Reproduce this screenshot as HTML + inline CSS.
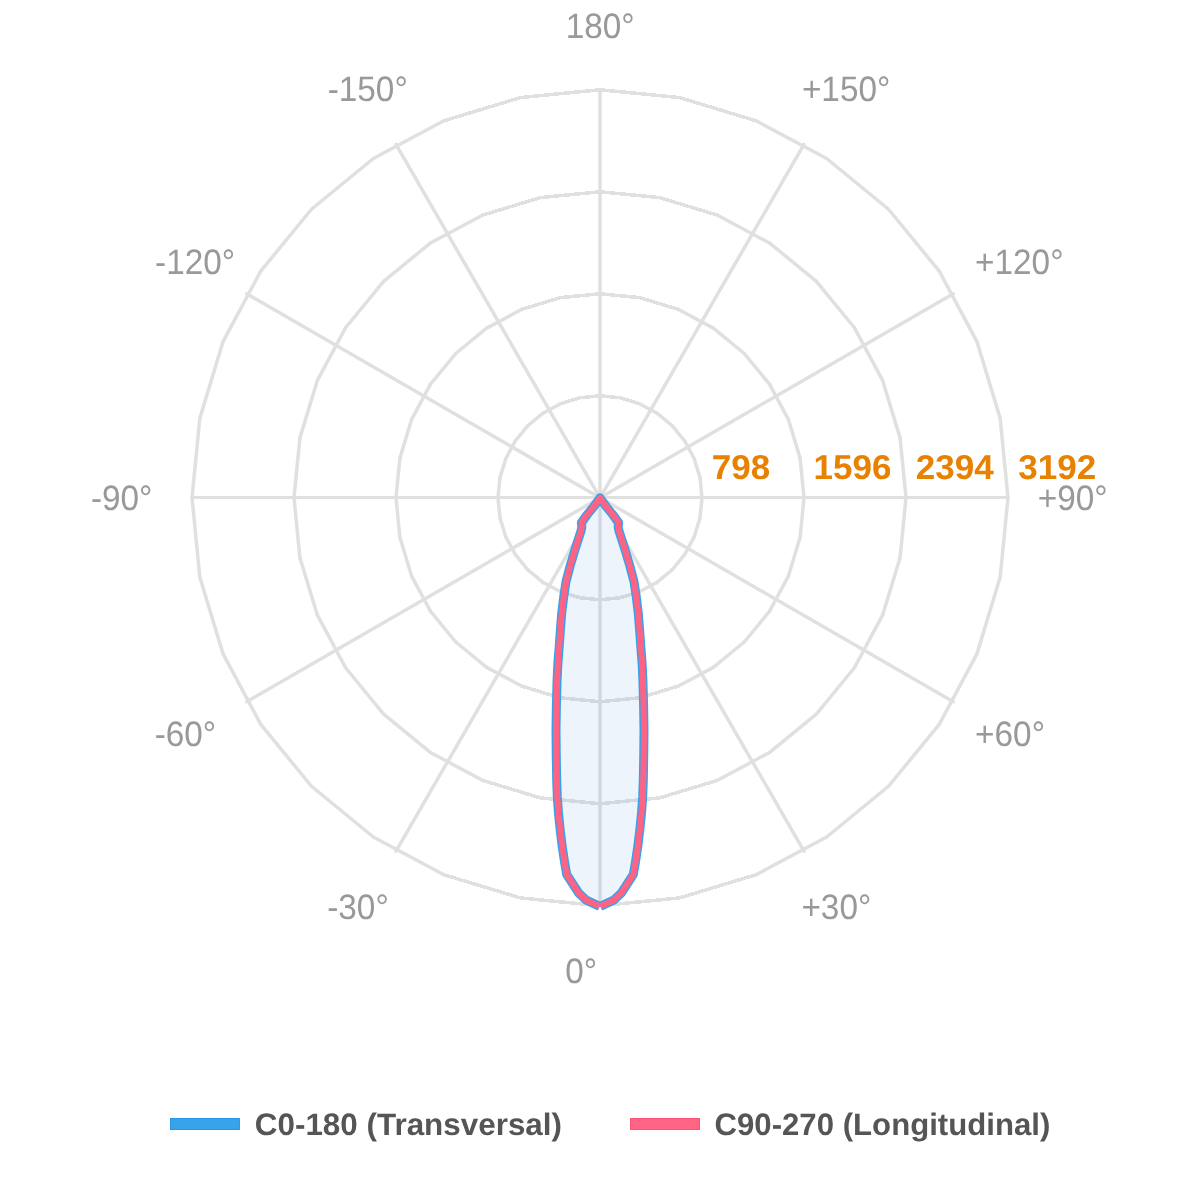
<!DOCTYPE html>
<html><head><meta charset="utf-8"><title>Polar diagram</title>
<style>
html,body{margin:0;padding:0;background:#fff;}
body{width:1200px;height:1200px;overflow:hidden;font-family:"Liberation Sans",sans-serif;}
svg{display:block;will-change:transform;}
text{font-family:"Liberation Sans",sans-serif;text-rendering:geometricPrecision;}
.grid line{fill:none;stroke:#e0e0e0;stroke-width:3.5;stroke-linecap:round;}
.lab{font-size:36px;fill:#999999;}
.tick{font-size:36px;font-weight:bold;fill:#e88100;}
.leg{font-size:31px;font-weight:bold;fill:#555555;}
</style></head><body>
<svg width="1200" height="1200" viewBox="0 0 1200 1200">
<rect width="1200" height="1200" fill="#ffffff"/>
<g class="grid" shape-rendering="crispEdges">
<line x1="600.0" y1="497.5" x2="1008.00" y2="497.5" style="stroke-width:3;stroke-linecap:butt"/>
<line x1="600.0" y1="497.5" x2="192.00" y2="497.5" style="stroke-width:3;stroke-linecap:butt"/>
<line x1="600.00" y1="395.75" x2="619.90" y2="397.71"/>
<line x1="619.90" y1="397.71" x2="639.03" y2="403.51"/>
<line x1="639.03" y1="591.99" x2="619.90" y2="597.79"/>
<line x1="619.90" y1="597.79" x2="600.00" y2="599.75"/>
<line x1="600.00" y1="599.75" x2="580.10" y2="597.79"/>
<line x1="580.10" y1="597.79" x2="560.97" y2="591.99"/>
<line x1="560.97" y1="403.51" x2="580.10" y2="397.71"/>
<line x1="580.10" y1="397.71" x2="600.00" y2="395.75"/>
<line x1="600.00" y1="293.75" x2="639.80" y2="297.67"/>
<line x1="639.80" y1="297.67" x2="678.07" y2="309.28"/>
<line x1="678.07" y1="686.22" x2="639.80" y2="697.83"/>
<line x1="639.80" y1="697.83" x2="600.00" y2="701.75"/>
<line x1="600.00" y1="701.75" x2="560.20" y2="697.83"/>
<line x1="560.20" y1="697.83" x2="521.93" y2="686.22"/>
<line x1="521.93" y1="309.28" x2="560.20" y2="297.67"/>
<line x1="560.20" y1="297.67" x2="600.00" y2="293.75"/>
<line x1="600.00" y1="191.75" x2="659.70" y2="197.63"/>
<line x1="659.70" y1="197.63" x2="717.10" y2="215.04"/>
<line x1="717.10" y1="780.46" x2="659.70" y2="797.87"/>
<line x1="659.70" y1="797.87" x2="600.00" y2="803.75"/>
<line x1="600.00" y1="803.75" x2="540.30" y2="797.87"/>
<line x1="540.30" y1="797.87" x2="482.90" y2="780.46"/>
<line x1="482.90" y1="215.04" x2="540.30" y2="197.63"/>
<line x1="540.30" y1="197.63" x2="600.00" y2="191.75"/>
<line x1="600.00" y1="89.75" x2="679.60" y2="97.59"/>
<line x1="679.60" y1="97.59" x2="756.13" y2="120.81"/>
<line x1="756.13" y1="874.69" x2="679.60" y2="897.91"/>
<line x1="679.60" y1="897.91" x2="600.00" y2="905.75"/>
<line x1="600.00" y1="905.75" x2="520.40" y2="897.91"/>
<line x1="520.40" y1="897.91" x2="443.87" y2="874.69"/>
<line x1="443.87" y1="120.81" x2="520.40" y2="97.59"/>
<line x1="520.40" y1="97.59" x2="600.00" y2="89.75"/>
</g>
<g class="grid">
<line x1="600.00" y1="497.75" x2="600.00" y2="89.75"/>
<line x1="600.00" y1="497.75" x2="804.00" y2="144.41"/>
<line x1="600.00" y1="497.75" x2="953.34" y2="293.75"/>
<line x1="600.00" y1="497.75" x2="953.34" y2="701.75"/>
<line x1="600.00" y1="497.75" x2="804.00" y2="851.09"/>
<line x1="600.00" y1="497.75" x2="600.00" y2="905.75"/>
<line x1="600.00" y1="497.75" x2="396.00" y2="851.09"/>
<line x1="600.00" y1="497.75" x2="246.66" y2="701.75"/>
<line x1="600.00" y1="497.75" x2="246.66" y2="293.75"/>
<line x1="600.00" y1="497.75" x2="396.00" y2="144.41"/>
<line x1="639.03" y1="403.51" x2="656.67" y2="412.94"/>
<line x1="656.67" y1="412.94" x2="672.12" y2="425.63"/>
<line x1="672.12" y1="425.63" x2="684.81" y2="441.08"/>
<line x1="684.81" y1="441.08" x2="694.24" y2="458.72"/>
<line x1="694.24" y1="458.72" x2="700.04" y2="477.85"/>
<line x1="700.04" y1="477.85" x2="702.00" y2="497.75"/>
<line x1="702.00" y1="497.75" x2="700.04" y2="517.65"/>
<line x1="700.04" y1="517.65" x2="694.24" y2="536.78"/>
<line x1="694.24" y1="536.78" x2="684.81" y2="554.42"/>
<line x1="684.81" y1="554.42" x2="672.12" y2="569.87"/>
<line x1="672.12" y1="569.87" x2="656.67" y2="582.56"/>
<line x1="656.67" y1="582.56" x2="639.03" y2="591.99"/>
<line x1="560.97" y1="591.99" x2="543.33" y2="582.56"/>
<line x1="543.33" y1="582.56" x2="527.88" y2="569.87"/>
<line x1="527.88" y1="569.87" x2="515.19" y2="554.42"/>
<line x1="515.19" y1="554.42" x2="505.76" y2="536.78"/>
<line x1="505.76" y1="536.78" x2="499.96" y2="517.65"/>
<line x1="499.96" y1="517.65" x2="498.00" y2="497.75"/>
<line x1="498.00" y1="497.75" x2="499.96" y2="477.85"/>
<line x1="499.96" y1="477.85" x2="505.76" y2="458.72"/>
<line x1="505.76" y1="458.72" x2="515.19" y2="441.08"/>
<line x1="515.19" y1="441.08" x2="527.88" y2="425.63"/>
<line x1="527.88" y1="425.63" x2="543.33" y2="412.94"/>
<line x1="543.33" y1="412.94" x2="560.97" y2="403.51"/>
<line x1="678.07" y1="309.28" x2="713.34" y2="328.13"/>
<line x1="713.34" y1="328.13" x2="744.25" y2="353.50"/>
<line x1="744.25" y1="353.50" x2="769.62" y2="384.41"/>
<line x1="769.62" y1="384.41" x2="788.47" y2="419.68"/>
<line x1="788.47" y1="419.68" x2="800.08" y2="457.95"/>
<line x1="800.08" y1="457.95" x2="804.00" y2="497.75"/>
<line x1="804.00" y1="497.75" x2="800.08" y2="537.55"/>
<line x1="800.08" y1="537.55" x2="788.47" y2="575.82"/>
<line x1="788.47" y1="575.82" x2="769.62" y2="611.09"/>
<line x1="769.62" y1="611.09" x2="744.25" y2="642.00"/>
<line x1="744.25" y1="642.00" x2="713.34" y2="667.37"/>
<line x1="713.34" y1="667.37" x2="678.07" y2="686.22"/>
<line x1="521.93" y1="686.22" x2="486.66" y2="667.37"/>
<line x1="486.66" y1="667.37" x2="455.75" y2="642.00"/>
<line x1="455.75" y1="642.00" x2="430.38" y2="611.09"/>
<line x1="430.38" y1="611.09" x2="411.53" y2="575.82"/>
<line x1="411.53" y1="575.82" x2="399.92" y2="537.55"/>
<line x1="399.92" y1="537.55" x2="396.00" y2="497.75"/>
<line x1="396.00" y1="497.75" x2="399.92" y2="457.95"/>
<line x1="399.92" y1="457.95" x2="411.53" y2="419.68"/>
<line x1="411.53" y1="419.68" x2="430.38" y2="384.41"/>
<line x1="430.38" y1="384.41" x2="455.75" y2="353.50"/>
<line x1="455.75" y1="353.50" x2="486.66" y2="328.13"/>
<line x1="486.66" y1="328.13" x2="521.93" y2="309.28"/>
<line x1="717.10" y1="215.04" x2="770.00" y2="243.32"/>
<line x1="770.00" y1="243.32" x2="816.37" y2="281.38"/>
<line x1="816.37" y1="281.38" x2="854.43" y2="327.75"/>
<line x1="854.43" y1="327.75" x2="882.71" y2="380.65"/>
<line x1="882.71" y1="380.65" x2="900.12" y2="438.05"/>
<line x1="900.12" y1="438.05" x2="906.00" y2="497.75"/>
<line x1="906.00" y1="497.75" x2="900.12" y2="557.45"/>
<line x1="900.12" y1="557.45" x2="882.71" y2="614.85"/>
<line x1="882.71" y1="614.85" x2="854.43" y2="667.75"/>
<line x1="854.43" y1="667.75" x2="816.37" y2="714.12"/>
<line x1="816.37" y1="714.12" x2="770.00" y2="752.18"/>
<line x1="770.00" y1="752.18" x2="717.10" y2="780.46"/>
<line x1="482.90" y1="780.46" x2="430.00" y2="752.18"/>
<line x1="430.00" y1="752.18" x2="383.63" y2="714.12"/>
<line x1="383.63" y1="714.12" x2="345.57" y2="667.75"/>
<line x1="345.57" y1="667.75" x2="317.29" y2="614.85"/>
<line x1="317.29" y1="614.85" x2="299.88" y2="557.45"/>
<line x1="299.88" y1="557.45" x2="294.00" y2="497.75"/>
<line x1="294.00" y1="497.75" x2="299.88" y2="438.05"/>
<line x1="299.88" y1="438.05" x2="317.29" y2="380.65"/>
<line x1="317.29" y1="380.65" x2="345.57" y2="327.75"/>
<line x1="345.57" y1="327.75" x2="383.63" y2="281.38"/>
<line x1="383.63" y1="281.38" x2="430.00" y2="243.32"/>
<line x1="430.00" y1="243.32" x2="482.90" y2="215.04"/>
<line x1="756.13" y1="120.81" x2="826.67" y2="158.51"/>
<line x1="826.67" y1="158.51" x2="888.50" y2="209.25"/>
<line x1="888.50" y1="209.25" x2="939.24" y2="271.08"/>
<line x1="939.24" y1="271.08" x2="976.94" y2="341.62"/>
<line x1="976.94" y1="341.62" x2="1000.16" y2="418.15"/>
<line x1="1000.16" y1="418.15" x2="1008.00" y2="497.75"/>
<line x1="1008.00" y1="497.75" x2="1000.16" y2="577.35"/>
<line x1="1000.16" y1="577.35" x2="976.94" y2="653.88"/>
<line x1="976.94" y1="653.88" x2="939.24" y2="724.42"/>
<line x1="939.24" y1="724.42" x2="888.50" y2="786.25"/>
<line x1="888.50" y1="786.25" x2="826.67" y2="836.99"/>
<line x1="826.67" y1="836.99" x2="756.13" y2="874.69"/>
<line x1="443.87" y1="874.69" x2="373.33" y2="836.99"/>
<line x1="373.33" y1="836.99" x2="311.50" y2="786.25"/>
<line x1="311.50" y1="786.25" x2="260.76" y2="724.42"/>
<line x1="260.76" y1="724.42" x2="223.06" y2="653.88"/>
<line x1="223.06" y1="653.88" x2="199.84" y2="577.35"/>
<line x1="199.84" y1="577.35" x2="192.00" y2="497.75"/>
<line x1="192.00" y1="497.75" x2="199.84" y2="418.15"/>
<line x1="199.84" y1="418.15" x2="223.06" y2="341.62"/>
<line x1="223.06" y1="341.62" x2="260.76" y2="271.08"/>
<line x1="260.76" y1="271.08" x2="311.50" y2="209.25"/>
<line x1="311.50" y1="209.25" x2="373.33" y2="158.51"/>
<line x1="373.33" y1="158.51" x2="443.87" y2="120.81"/>
</g>
<path d="M600.30,906.30 L613.70,900.20 L621.30,893.00 L633.30,874.50 L635.25,863.30 L637.75,846.70 L639.80,830.00 L641.50,813.30 L642.70,796.70 L643.30,780.00 L643.75,755.00 L644.00,730.00 L643.60,705.00 L642.90,680.00 L642.10,663.30 L640.80,646.70 L639.60,630.00 L638.30,613.30 L636.25,596.70 L634.00,581.70 L629.60,565.00 L624.60,548.30 L619.20,531.70 L618.20,527.30 L618.60,522.60 L613.10,515.00 L606.25,506.70 L600.00,497.75 L593.75,506.70 L586.90,515.00 L581.40,522.60 L581.80,527.30 L580.80,531.70 L575.40,548.30 L570.40,565.00 L566.00,581.70 L563.75,596.70 L561.70,613.30 L560.40,630.00 L559.20,646.70 L557.90,663.30 L557.10,680.00 L556.40,705.00 L556.00,730.00 L556.25,755.00 L556.70,780.00 L557.30,796.70 L558.50,813.30 L560.20,830.00 L562.25,846.70 L564.75,863.30 L566.70,874.50 L578.70,893.00 L586.30,900.20 L599.70,906.30Z" fill="rgba(75,145,225,0.1)" stroke="none"/>
<path d="M600.30,906.30 L613.70,900.20 L621.30,893.00 L633.30,874.50 L635.25,863.30 L637.75,846.70 L639.80,830.00 L641.50,813.30 L642.70,796.70 L643.30,780.00 L643.75,755.00 L644.00,730.00 L643.60,705.00 L642.90,680.00 L642.10,663.30 L640.80,646.70 L639.60,630.00 L638.30,613.30 L636.25,596.70 L634.00,581.70 L629.60,565.00 L624.60,548.30 L619.20,531.70 L618.20,527.30 L618.60,522.60 L613.10,515.00 L606.25,506.70 L600.00,497.75 L593.75,506.70 L586.90,515.00 L581.40,522.60 L581.80,527.30 L580.80,531.70 L575.40,548.30 L570.40,565.00 L566.00,581.70 L563.75,596.70 L561.70,613.30 L560.40,630.00 L559.20,646.70 L557.90,663.30 L557.10,680.00 L556.40,705.00 L556.00,730.00 L556.25,755.00 L556.70,780.00 L557.30,796.70 L558.50,813.30 L560.20,830.00 L562.25,846.70 L564.75,863.30 L566.70,874.50 L578.70,893.00 L586.30,900.20 L599.70,906.30" fill="none" stroke="#36a2eb" stroke-width="9" stroke-linejoin="round" stroke-linecap="butt"/>
<path d="M600.30,906.30 L613.70,900.20 L621.30,893.00 L633.30,874.50 L635.25,863.30 L637.75,846.70 L639.80,830.00 L641.50,813.30 L642.70,796.70 L643.30,780.00 L643.75,755.00 L644.00,730.00 L643.60,705.00 L642.90,680.00 L642.10,663.30 L640.80,646.70 L639.60,630.00 L638.30,613.30 L636.25,596.70 L634.00,581.70 L629.60,565.00 L624.60,548.30 L619.20,531.70 L618.20,527.30 L618.60,522.60 L613.10,515.00 L606.25,506.70 L600.00,497.75 L593.75,506.70 L586.90,515.00 L581.40,522.60 L581.80,527.30 L580.80,531.70 L575.40,548.30 L570.40,565.00 L566.00,581.70 L563.75,596.70 L561.70,613.30 L560.40,630.00 L559.20,646.70 L557.90,663.30 L557.10,680.00 L556.40,705.00 L556.00,730.00 L556.25,755.00 L556.70,780.00 L557.30,796.70 L558.50,813.30 L560.20,830.00 L562.25,846.70 L564.75,863.30 L566.70,874.50 L578.70,893.00 L586.30,900.20 L599.70,906.30" fill="none" stroke="#ff6384" stroke-width="6" stroke-linejoin="round" stroke-linecap="butt"/>
<rect x="170.5" y="1118.5" width="69" height="11" fill="#38a3eb" stroke="#2898e9" stroke-width="1" shape-rendering="crispEdges"/>
<rect x="630.5" y="1118.5" width="69" height="11" fill="#ff6485" stroke="#ff5278" stroke-width="1" shape-rendering="crispEdges"/>
<g>
<text class="lab" transform="translate(565.70,37.50) scale(0.9257,0.98)">180°</text>
<text class="lab" transform="translate(327.70,100.50) scale(0.9257,0.98)">-150°</text>
<text class="lab" transform="translate(801.91,100.50) scale(0.9257,0.98)">+150°</text>
<text class="lab" transform="translate(155.11,273.70) scale(0.9257,0.98)">-120°</text>
<text class="lab" transform="translate(975.09,273.70) scale(0.9257,0.98)">+120°</text>
<text class="lab" transform="translate(90.95,509.80) scale(0.9257,0.98)">-90°</text>
<text class="lab" transform="translate(1037.70,509.80) scale(0.9257,0.98)">+90°</text>
<text class="lab" transform="translate(154.65,745.80) scale(0.9257,0.98)">-60°</text>
<text class="lab" transform="translate(975.11,745.80) scale(0.9257,0.98)">+60°</text>
<text class="lab" transform="translate(327.22,918.70) scale(0.9257,0.98)">-30°</text>
<text class="lab" transform="translate(801.41,918.70) scale(0.9257,0.98)">+30°</text>
<text class="lab" transform="translate(565.34,982.80) scale(0.9257,0.98)">0°</text>
<text class="tick" transform="translate(711.71,479.30) scale(0.9740,0.96)">798</text>
<text class="tick" transform="translate(813.53,479.30) scale(0.9740,0.96)">1596</text>
<text class="tick" transform="translate(915.70,479.30) scale(0.9740,0.96)">2394</text>
<text class="tick" transform="translate(1018.20,479.30) scale(0.9740,0.96)">3192</text>
<text class="leg" transform="translate(254.79,1134.90) scale(1.0130,1)">C0-180 (Transversal)</text>
<text class="leg" transform="translate(714.50,1134.90) scale(1.0052,1)">C90-270 (Longitudinal)</text>
</g>
</svg>
</body></html>
